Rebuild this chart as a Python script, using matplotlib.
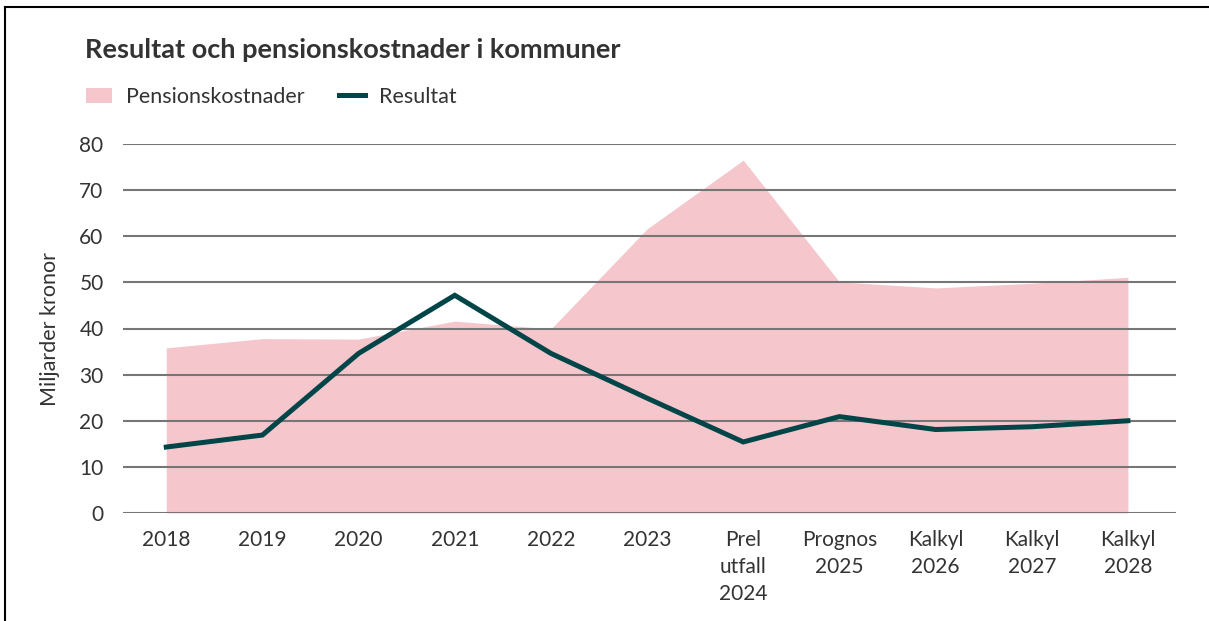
import matplotlib
matplotlib.use("Agg")
import matplotlib.pyplot as plt
from matplotlib.lines import Line2D
from matplotlib.patches import Patch

# data (miljarder kronor)
categories = ["2018", "2019", "2020", "2021", "2022", "2023",
              "Prel\nutfall\n2024", "Prognos\n2025", "Kalkyl\n2026",
              "Kalkyl\n2027", "Kalkyl\n2028"]
pensionskostnader = [35.8, 37.8, 37.7, 41.6, 39.9, 61.6, 76.5, 50.1, 48.8, 49.8, 51.1]
resultat = [14.3, 16.9, 34.6, 47.2, 34.6, 24.9, 15.4, 20.9, 18.1, 18.7, 20.0]
yticks = [0, 10, 20, 30, 40, 50, 60, 70, 80]

PINK = "#f6c6cd"
TEAL = "#004547"
TEXT = "#333333"
GRID = "#767676"

plt.rcParams["font.family"] = ["Lato", "DejaVu Sans"]

W, H = 1209, 621
fig = plt.figure(figsize=(W / 100, H / 100), dpi=100)
ax = fig.add_axes([123 / W, 1 - 513 / H, (1176 - 123) / W, (513 - 144) / H])

x = list(range(len(categories)))
ax.fill_between(x, 0, pensionskostnader, color=PINK, linewidth=0, zorder=1)
ax.plot(x, resultat, color=TEAL, linewidth=3.6, solid_joinstyle="miter", zorder=3)

ax.set_xlim(-0.45, 10.5)
ax.set_ylim(0, 80)
ax.set_yticks(yticks)
ax.set_xticks(x)
ax.set_xticklabels(categories, linespacing=1.45)
ax.yaxis.grid(True, color=GRID, linewidth=1.5, zorder=2)
ax.set_axisbelow(False)
for s in ax.spines.values():
    s.set_visible(False)
ax.tick_params(axis="both", length=0, labelsize=15, labelcolor=TEXT)
ax.tick_params(axis="x", pad=12)
ax.tick_params(axis="y", pad=14)
ax.set_ylabel("Miljarder kronor", fontsize=15.5, color=TEXT, labelpad=14)

fig.text(85 / W, 1 - 50 / H, "Resultat och pensionskostnader i kommuner",
         fontsize=19.5, fontweight="bold", color=TEXT, va="center", ha="left")

handles = [Patch(facecolor=PINK, edgecolor="none", label="Pensionskostnader"),
           Line2D([], [], color=TEAL, linewidth=3.6, label="Resultat")]
fig.legend(handles=handles, loc="center left", bbox_to_anchor=(86 / W, 1 - 97 / H),
           ncol=2, frameon=False, fontsize=15.5, borderpad=0, borderaxespad=0,
           handlelength=1.2, handleheight=0.75, handletextpad=0.65,
           columnspacing=1.6, labelcolor=TEXT)

# frame around the figure (left and top edges visible in reference)
fig.add_artist(Line2D([5 / W, 5 / W], [0, 1 - 7 / H], color="black", linewidth=1.5))
fig.add_artist(Line2D([5 / W, 1], [1 - 7 / H, 1 - 7 / H], color="black", linewidth=1.5))

fig.savefig("out.png", dpi=100)
